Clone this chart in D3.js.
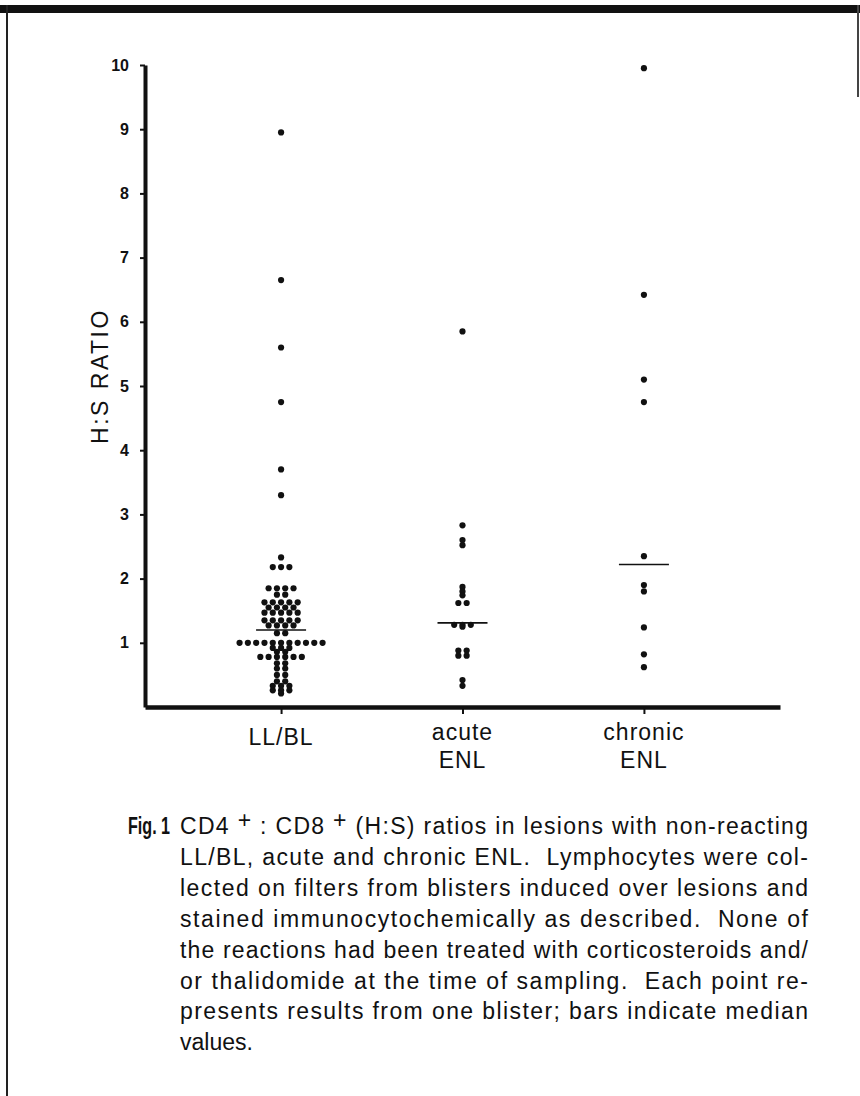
<!DOCTYPE html>
<html>
<head>
<meta charset="utf-8">
<script src="https://cdn.jsdelivr.net/npm/d3@7"></script>
<style>
body { margin: 0; background: #fff; }
svg { display: block; font-family: 'Liberation Sans', Arial, sans-serif; }
</style>
</head>
<body>
<svg id="chart"></svg>
<script>
const width = 860;
const height = 1096;

const categories = ['LL/BL', 'acute ENL', 'chronic ENL'];
const categoryLines = [['LL/BL'], ['acute', 'ENL'], ['chronic', 'ENL']];

// H:S ratios, one value per blister
const llbl = [
    8.95, 6.65, 5.6, 4.75, 3.7, 3.3,
    2.33,
    2.18, 2.18, 2.18,
    1.85, 1.85, 1.85, 1.85,
    1.75, 1.75,
    1.63, 1.63, 1.63, 1.63, 1.63,
    1.55, 1.55, 1.55, 1.55,
    1.47, 1.47, 1.47, 1.47, 1.47,
    1.35, 1.35, 1.35, 1.35, 1.35,
    1.27, 1.27, 1.27, 1.27,
    1.15, 1.15,
    1.0, 1.0, 1.0, 1.0, 1.0, 1.0, 1.0, 1.0, 1.0, 1.0, 1.0,
    0.92, 0.92, 0.92,
    0.86, 0.86,
    0.78, 0.78, 0.78, 0.78, 0.78, 0.78,
    0.68, 0.68,
    0.6, 0.6,
    0.5, 0.5,
    0.4, 0.4,
    0.33, 0.33, 0.33,
    0.26, 0.26, 0.26,
    0.21
];
const acuteEnl = [
    5.85,
    2.83, 2.6, 2.52,
    1.87, 1.8, 1.74,
    1.62, 1.62,
    1.28, 1.28, 1.28, 1.25,
    0.88, 0.88,
    0.8, 0.8,
    0.42, 0.33
];
const chronicEnl = [9.95, 6.42, 5.1, 4.75, 2.35, 1.9, 1.8, 1.24, 0.82, 0.62];
const series = [llbl, acuteEnl, chronicEnl];
const medians = [1.2, 1.31, 2.22];

const yTicks = [1, 2, 3, 4, 5, 6, 7, 8, 9, 10];
const yLabel = 'H:S RATIO';

const captionLines = [
    'LL/BL, acute and chronic ENL.  Lymphocytes were col-',
    'lected on filters from blisters induced over lesions and',
    'stained immunocytochemically as described.  None of',
    'the reactions had been treated with corticosteroids and/',
    'or thalidomide at the time of sampling.  Each point re-',
    'presents results from one blister; bars indicate median',
    'values.'
];

const svg = d3.select('#chart')
    .attr('width', width)
    .attr('height', height);

svg.append('rect').attr('width', width).attr('height', height).attr('fill', '#fff');

// page frame from the scan
svg.append('rect').attr('x', 0).attr('y', 5).attr('width', width).attr('height', 8).attr('fill', '#111');
svg.append('line').attr('x1', 7).attr('x2', 7).attr('y1', 5).attr('y2', height)
    .attr('stroke', '#222').attr('stroke-width', 2);
svg.append('line').attr('x1', 858).attr('x2', 858).attr('y1', 5).attr('y2', 97)
    .attr('stroke', '#444').attr('stroke-width', 2);

const x = d3.scalePoint().domain(categories).range([145, 780]).padding(0.75);
const y = d3.scaleLinear().domain([0, 10]).range([707, 65]);

const yAxis = svg.append('g')
    .attr('transform', 'translate(145,0)')
    .call(d3.axisLeft(y).tickValues(yTicks).tickSize(5).tickSizeOuter(0).tickPadding(11));
yAxis.select('.domain').attr('stroke', '#111').attr('stroke-width', 4);
yAxis.selectAll('.tick line').attr('stroke', '#111').attr('stroke-width', 2);
yAxis.selectAll('.tick text')
    .style('font-size', '16px')
    .style('font-family', "'Liberation Sans', Arial, sans-serif")
    .attr('font-weight', 'bold')
    .attr('fill', '#111');

const xAxis = svg.append('g')
    .attr('transform', `translate(0,${y(0)})`)
    .call(d3.axisBottom(x).tickSize(7).tickSizeOuter(0).tickFormat(''));
xAxis.select('.domain').attr('stroke', '#111').attr('stroke-width', 4.5);
xAxis.selectAll('.tick line').attr('stroke', '#111').attr('stroke-width', 2);

// category labels, one or two lines
categories.forEach((c, i) => {
    const lines = categoryLines[i];
    const t = svg.append('text')
        .attr('text-anchor', 'middle')
        .attr('font-size', 23)
        .attr('letter-spacing', 1)
        .attr('fill', '#111');
    lines.forEach((l, j) => {
        const base = lines.length === 1 ? 38 : 33 + j * 28;
        t.append('tspan').attr('x', x(c)).attr('y', y(0) + base).text(l);
    });
});

svg.append('text')
    .attr('transform', 'translate(100,376) rotate(-90)')
    .attr('text-anchor', 'middle')
    .attr('dominant-baseline', 'central')
    .attr('font-size', 23)
    .attr('letter-spacing', 2.5)
    .attr('fill', '#111')
    .text(yLabel);

// dot columns: equal values sit side by side in a row
const dotGap = 8.3;
const dots = [];
series.forEach((vals, i) => {
    const groups = d3.groups(vals, v => v);
    groups.forEach(([v, g]) => {
        g.forEach((_, k) => {
            dots.push({cat: categories[i], value: v, offset: (k - (g.length - 1) / 2) * dotGap});
        });
    });
});

svg.append('g').selectAll('circle').data(dots).enter().append('circle')
    .attr('cx', d => x(d.cat) + d.offset)
    .attr('cy', d => y(d.value))
    .attr('r', 3.1)
    .attr('fill', '#111');

svg.append('g').selectAll('line').data(medians).enter().append('line')
    .attr('x1', (d, i) => x(categories[i]) - 25)
    .attr('x2', (d, i) => x(categories[i]) + 25)
    .attr('y1', d => y(d))
    .attr('y2', d => y(d))
    .attr('stroke', '#111')
    .attr('stroke-width', 1.6);

// caption
const capX = 180;
const capTop = 834;
const capStep = 30.9;
const capWidth = 628;
const capSize = 23;

svg.append('g')
    .attr('transform', `translate(128,${capTop}) scale(0.7,1)`)
    .append('text')
    .attr('font-size', 23).attr('font-weight', 'bold').attr('fill', '#111')
    .text('Fig. 1');

const first = svg.append('text')
    .attr('x', capX).attr('y', capTop)
    .attr('font-size', capSize).attr('fill', '#111')
    .attr('textLength', capWidth).attr('lengthAdjust', 'spacing');
first.append('tspan').text('CD4');
first.append('tspan').attr('dy', -6).text(' +');
first.append('tspan').attr('dy', 6).text(' : CD8');
first.append('tspan').attr('dy', -6).text(' +');
first.append('tspan').attr('dy', 6).text(' (H:S) ratios in lesions with non-reacting');

captionLines.forEach((l, i) => {
    const t = svg.append('text')
        .attr('x', capX).attr('y', capTop + (i + 1) * capStep)
        .attr('font-size', capSize).attr('fill', '#111')
        .attr('xml:space', 'preserve')
        .text(l);
    if (i < captionLines.length - 1) {
        t.attr('textLength', capWidth).attr('lengthAdjust', 'spacing');
    }
});
</script>
</body>
</html>
